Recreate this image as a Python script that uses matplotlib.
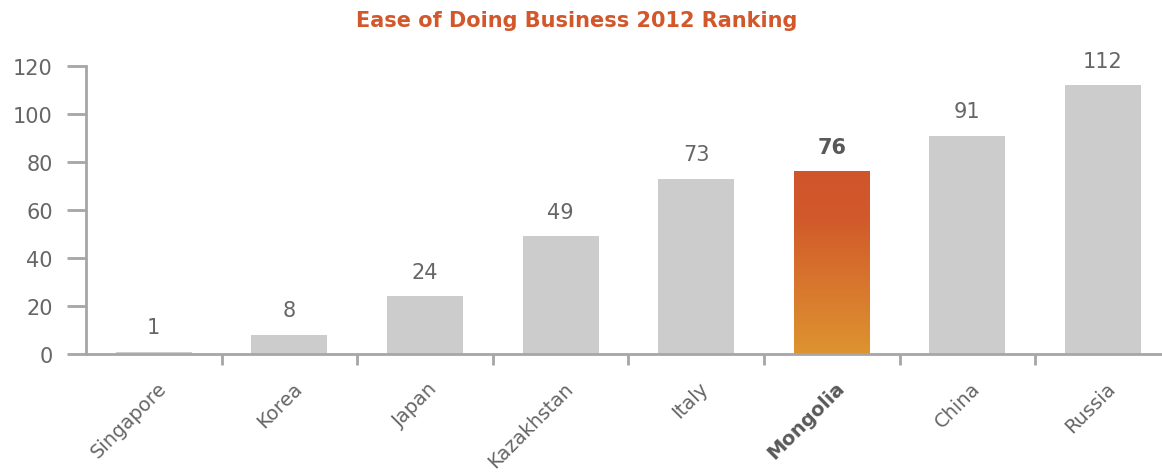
import numpy as np
import matplotlib
matplotlib.use("Agg")
from matplotlib import pyplot as plt
from matplotlib.colors import LinearSegmentedColormap

# data
countries = ["Singapore", "Korea", "Japan", "Kazakhstan", "Italy", "Mongolia", "China", "Russia"]
ranks = [1, 8, 24, 49, 73, 76, 91, 112]
highlight = "Mongolia"

plt.rcParams['font.family'] = ['DejaVu Sans']

axis_col = "#A6A6A6"
text_col = "#666666"
bar_col = "#CCCCCC"
orange = "#D2572A"

fig = plt.figure(figsize=(11.62, 4.77), dpi=100)
ax = fig.add_axes([0.074, 0.2558, 0.93, 0.6038])

x = np.arange(len(countries))
w = 0.56
for i, (c, v) in enumerate(zip(countries, ranks)):
    if c == highlight:
        cmap = LinearSegmentedColormap.from_list(
            "mg", [(0, "#D1552B"), (0.25, "#D1592B"), (1, "#DE9430")])
        grad = np.linspace(0, 1, 256).reshape(-1, 1)
        ax.imshow(grad, cmap=cmap, aspect="auto", origin="upper",
                  extent=[i - w / 2, i + w / 2, 0, v], zorder=2)
        ax.text(i, v + 6, str(v), ha="center", va="bottom", fontsize=15,
                fontweight="bold", color="#595959")
    else:
        ax.bar(i, v, width=w, color=bar_col, zorder=2)
        ax.text(i, v + 6, str(v), ha="center", va="bottom", fontsize=15,
                color=text_col)

ax.set_xlim(-0.5, 7.47)
ax.set_ylim(0, 120)
ax.set_yticks(range(0, 121, 20))

for s in ["top", "right"]:
    ax.spines[s].set_visible(False)
for s in ["left", "bottom"]:
    ax.spines[s].set_color(axis_col)
    ax.spines[s].set_linewidth(2)
ax.tick_params(axis="y", colors=axis_col, labelcolor=text_col, labelsize=15,
               length=14, width=2, pad=10)

# category ticks sit between bars, labels at bar centres
ax.set_xticks(np.arange(0.5, len(countries) - 0.5, 1))
ax.set_xticklabels([])
ax.tick_params(axis="x", colors=axis_col, length=8, width=2, direction="out")
for i, c in enumerate(countries):
    bold = c == highlight
    ax.text(i + 0.02, -10, c, rotation=45, ha="right", va="top",
            rotation_mode="anchor", fontsize=14,
            fontweight="bold" if bold else "normal",
            color="#595959" if bold else text_col)

fig.text(0.496, 0.955, "Ease of Doing Business 2012 Ranking", ha="center",
         va="center", fontsize=15, fontweight="bold", color=orange)

fig.savefig("out.png", dpi=100)
